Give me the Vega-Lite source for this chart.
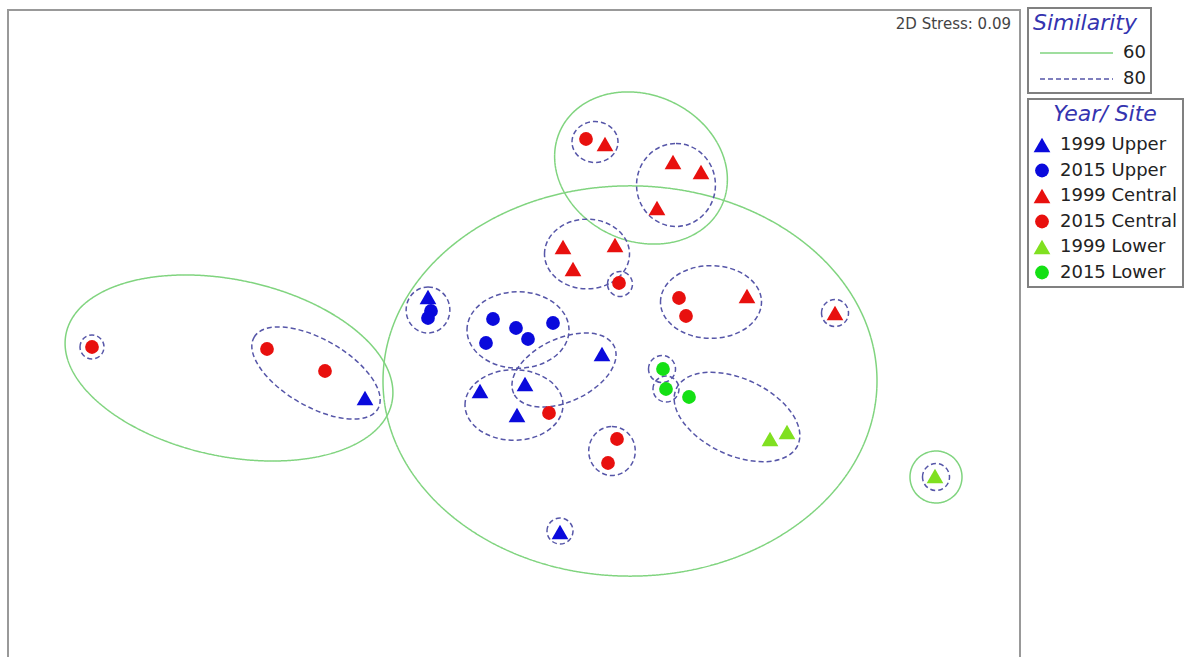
{
  "$schema": "https://vega.github.io/schema/vega-lite/v6.json",
  "width": 1012,
  "height": 660,
  "autosize": {"type": "none"},
  "padding": {"left": 8, "top": 10, "right": 167, "bottom": -13},
  "background": "white",
  "config": {
    "view": {"stroke": "#999999", "strokeWidth": 2},
    "legend": {"strokeWidth": 2}
  },
  "datasets": {
    "points": [
      {"group": "1999 Upper", "MDS1": 420, "MDS2": 373},
      {"group": "1999 Upper", "MDS1": 594, "MDS2": 316},
      {"group": "1999 Upper", "MDS1": 472, "MDS2": 279},
      {"group": "1999 Upper", "MDS1": 517, "MDS2": 286},
      {"group": "1999 Upper", "MDS1": 509, "MDS2": 255},
      {"group": "1999 Upper", "MDS1": 357, "MDS2": 272},
      {"group": "1999 Upper", "MDS1": 552, "MDS2": 138},
      {"group": "2015 Upper", "MDS1": 423, "MDS2": 359},
      {"group": "2015 Upper", "MDS1": 420, "MDS2": 352},
      {"group": "2015 Upper", "MDS1": 485, "MDS2": 351},
      {"group": "2015 Upper", "MDS1": 508, "MDS2": 342},
      {"group": "2015 Upper", "MDS1": 520, "MDS2": 331},
      {"group": "2015 Upper", "MDS1": 545, "MDS2": 347},
      {"group": "2015 Upper", "MDS1": 478, "MDS2": 327},
      {"group": "1999 Central", "MDS1": 597, "MDS2": 526},
      {"group": "1999 Central", "MDS1": 665, "MDS2": 508},
      {"group": "1999 Central", "MDS1": 693, "MDS2": 498},
      {"group": "1999 Central", "MDS1": 649, "MDS2": 462},
      {"group": "1999 Central", "MDS1": 555, "MDS2": 423},
      {"group": "1999 Central", "MDS1": 607, "MDS2": 425},
      {"group": "1999 Central", "MDS1": 565, "MDS2": 401},
      {"group": "1999 Central", "MDS1": 739, "MDS2": 374},
      {"group": "1999 Central", "MDS1": 827, "MDS2": 357},
      {"group": "2015 Central", "MDS1": 578, "MDS2": 531},
      {"group": "2015 Central", "MDS1": 611, "MDS2": 387},
      {"group": "2015 Central", "MDS1": 671, "MDS2": 372},
      {"group": "2015 Central", "MDS1": 678, "MDS2": 354},
      {"group": "2015 Central", "MDS1": 541, "MDS2": 257},
      {"group": "2015 Central", "MDS1": 609, "MDS2": 231},
      {"group": "2015 Central", "MDS1": 600, "MDS2": 207},
      {"group": "2015 Central", "MDS1": 84, "MDS2": 323},
      {"group": "2015 Central", "MDS1": 259, "MDS2": 321},
      {"group": "2015 Central", "MDS1": 317, "MDS2": 299},
      {"group": "1999 Lower", "MDS1": 762, "MDS2": 231},
      {"group": "1999 Lower", "MDS1": 779, "MDS2": 238},
      {"group": "1999 Lower", "MDS1": 927, "MDS2": 194},
      {"group": "2015 Lower", "MDS1": 655, "MDS2": 301},
      {"group": "2015 Lower", "MDS1": 658, "MDS2": 281},
      {"group": "2015 Lower", "MDS1": 681, "MDS2": 273}
    ],
    "ellipses": [
      {"similarity": "60", "MDS1": 221, "MDS2": 302, "major": 333, "ratio": "0.53", "angle": 12},
      {"similarity": "60", "MDS1": 622, "MDS2": 289, "major": 494, "ratio": "0.79", "angle": 0},
      {"similarity": "60", "MDS1": 633, "MDS2": 502, "major": 178, "ratio": "0.82", "angle": 25},
      {"similarity": "60", "MDS1": 928, "MDS2": 193, "major": 52, "ratio": "1.00", "angle": 0},
      {"similarity": "80", "MDS1": 84, "MDS2": 323, "major": 24, "ratio": "1.00", "angle": 0},
      {"similarity": "80", "MDS1": 308, "MDS2": 297, "major": 143, "ratio": "0.47", "angle": 30},
      {"similarity": "80", "MDS1": 420, "MDS2": 360, "major": 46, "ratio": "0.95", "angle": 90},
      {"similarity": "80", "MDS1": 510, "MDS2": 340, "major": 102, "ratio": "0.75", "angle": 0},
      {"similarity": "80", "MDS1": 556, "MDS2": 300, "major": 111, "ratio": "0.57", "angle": -25},
      {"similarity": "80", "MDS1": 506, "MDS2": 265, "major": 98, "ratio": "0.72", "angle": 0},
      {"similarity": "80", "MDS1": 604, "MDS2": 219, "major": 49, "ratio": "0.95", "angle": 90},
      {"similarity": "80", "MDS1": 579, "MDS2": 416, "major": 85, "ratio": "0.82", "angle": 0},
      {"similarity": "80", "MDS1": 612, "MDS2": 386, "major": 25, "ratio": "1.00", "angle": 0},
      {"similarity": "80", "MDS1": 654, "MDS2": 301, "major": 27, "ratio": "1.00", "angle": 0},
      {"similarity": "80", "MDS1": 658, "MDS2": 281, "major": 26, "ratio": "1.00", "angle": 0},
      {"similarity": "80", "MDS1": 729, "MDS2": 253, "major": 134, "ratio": "0.57", "angle": 25},
      {"similarity": "80", "MDS1": 928, "MDS2": 193, "major": 27, "ratio": "1.00", "angle": 0},
      {"similarity": "80", "MDS1": 587, "MDS2": 528, "major": 46, "ratio": "0.89", "angle": 0},
      {"similarity": "80", "MDS1": 668, "MDS2": 485, "major": 83, "ratio": "0.95", "angle": 90},
      {"similarity": "80", "MDS1": 703, "MDS2": 368, "major": 101, "ratio": "0.72", "angle": 0},
      {"similarity": "80", "MDS1": 827, "MDS2": 357, "major": 27, "ratio": "1.00", "angle": 0},
      {"similarity": "80", "MDS1": 552, "MDS2": 139, "major": 26, "ratio": "1.00", "angle": 0}
    ],
    "stress": [
      {"MDS1": 1003, "MDS2": 646, "label": "2D Stress: 0.09"}
    ]
  },
  "encoding": {
    "x": {"field": "MDS1", "type": "quantitative", "scale": {"domain": [0, 1012], "nice": false, "zero": false}, "axis": null},
    "y": {"field": "MDS2", "type": "quantitative", "scale": {"domain": [0, 660], "nice": false, "zero": false}, "axis": null}
  },
  "layer": [
    {
      "data": {"name": "ellipses"},
      "mark": {"type": "point", "filled": false, "opacity": 1, "strokeWidth": 1.5},
      "encoding": {
        "stroke": {
          "field": "similarity", "type": "nominal",
          "scale": {"domain": ["60", "80"], "range": ["#80d47f", "#5656a8"]},
          "legend": {
            "title": "Similarity",
            "orient": "none", "legendX": 1020, "legendY": -2,
            "symbolType": "M-0.5,0L17.75,0", "symbolSize": 64, "symbolStrokeWidth": 1.5,
            "labelOffset": 72, "padding": 5, "strokeColor": "#808080",
            "titleFont": "DejaVu Sans", "titleFontStyle": "italic", "titleFontWeight": "normal",
            "titleFontSize": 22, "titleColor": "#3434b0", "titlePadding": 9,
            "labelFont": "DejaVu Sans", "labelFontSize": 18, "labelColor": "#222222",
            "rowPadding": 8
          }
        },
        "strokeDash": {
          "field": "similarity", "type": "nominal",
          "scale": {"domain": ["60", "80"], "range": [[1, 0], [5, 3]]}
        },
        "shape": {
          "field": "ratio", "type": "nominal", "legend": null,
          "scale": {
            "domain": ["1.00", "0.95", "0.89", "0.82", "0.79", "0.75", "0.72", "0.57", "0.53", "0.47"],
            "range": [
              "M-1,0C-1,-0.5523,-0.5523,-1,0,-1C0.5523,-1,1,-0.5523,1,0C1,0.5523,0.5523,1,0,1C-0.5523,1,-1,0.5523,-1,0Z",
              "M-1,0C-1,-0.5247,-0.5523,-0.95,0,-0.95C0.5523,-0.95,1,-0.5247,1,0C1,0.5247,0.5523,0.95,0,0.95C-0.5523,0.95,-1,0.5247,-1,0Z",
              "M-1,0C-1,-0.4915,-0.5523,-0.89,0,-0.89C0.5523,-0.89,1,-0.4915,1,0C1,0.4915,0.5523,0.89,0,0.89C-0.5523,0.89,-1,0.4915,-1,0Z",
              "M-1,0C-1,-0.4529,-0.5523,-0.82,0,-0.82C0.5523,-0.82,1,-0.4529,1,0C1,0.4529,0.5523,0.82,0,0.82C-0.5523,0.82,-1,0.4529,-1,0Z",
              "M-1,0C-1,-0.4363,-0.5523,-0.79,0,-0.79C0.5523,-0.79,1,-0.4363,1,0C1,0.4363,0.5523,0.79,0,0.79C-0.5523,0.79,-1,0.4363,-1,0Z",
              "M-1,0C-1,-0.4142,-0.5523,-0.75,0,-0.75C0.5523,-0.75,1,-0.4142,1,0C1,0.4142,0.5523,0.75,0,0.75C-0.5523,0.75,-1,0.4142,-1,0Z",
              "M-1,0C-1,-0.3977,-0.5523,-0.72,0,-0.72C0.5523,-0.72,1,-0.3977,1,0C1,0.3977,0.5523,0.72,0,0.72C-0.5523,0.72,-1,0.3977,-1,0Z",
              "M-1,0C-1,-0.3148,-0.5523,-0.57,0,-0.57C0.5523,-0.57,1,-0.3148,1,0C1,0.3148,0.5523,0.57,0,0.57C-0.5523,0.57,-1,0.3148,-1,0Z",
              "M-1,0C-1,-0.2927,-0.5523,-0.53,0,-0.53C0.5523,-0.53,1,-0.2927,1,0C1,0.2927,0.5523,0.53,0,0.53C-0.5523,0.53,-1,0.2927,-1,0Z",
              "M-1,0C-1,-0.2596,-0.5523,-0.47,0,-0.47C0.5523,-0.47,1,-0.2596,1,0C1,0.2596,0.5523,0.47,0,0.47C-0.5523,0.47,-1,0.2596,-1,0Z"
            ]
          }
        },
        "size": {
          "field": "major", "type": "quantitative", "legend": null,
          "scale": {"type": "pow", "exponent": 2, "domain": [0, 500], "range": [0, 250000]}
        },
        "angle": {
          "field": "angle", "type": "quantitative", "legend": null,
          "scale": {"domain": [-180, 180], "range": [-180, 180]}
        }
      }
    },
    {
      "data": {"name": "points"},
      "mark": {"type": "point", "filled": true, "opacity": 1, "strokeWidth": 0},
      "encoding": {
        "color": {
          "field": "group", "type": "nominal",
          "scale": {
            "domain": ["1999 Upper", "2015 Upper", "1999 Central", "2015 Central", "1999 Lower", "2015 Lower"],
            "range": ["#0a0adc", "#0a0adc", "#e8100e", "#e8100e", "#80e020", "#14e014"]
          },
          "legend": {
            "title": "Year/ Site",
            "orient": "none", "legendX": 1020, "legendY": 89,
            "padding": 5, "strokeColor": "#808080",
            "titleFont": "DejaVu Sans", "titleFontStyle": "italic", "titleFontWeight": "normal",
            "titleFontSize": 22, "titleColor": "#3434b0", "titlePadding": 10, "titleAnchor": "middle",
            "labelFont": "DejaVu Sans", "labelFontSize": 18, "labelColor": "#222222",
            "labelOffset": 9, "rowPadding": 7.5, "symbolStrokeWidth": 0, "symbolOpacity": 1
          }
        },
        "shape": {
          "field": "group", "type": "nominal",
          "scale": {
            "domain": ["1999 Upper", "2015 Upper", "1999 Central", "2015 Central", "1999 Lower", "2015 Lower"],
            "range": ["triangle-up", "circle", "triangle-up", "circle", "triangle-up", "circle"]
          },
          "legend": {
            "title": "Year/ Site",
            "orient": "none", "legendX": 1020, "legendY": 89,
            "padding": 5, "strokeColor": "#808080",
            "titleFont": "DejaVu Sans", "titleFontStyle": "italic", "titleFontWeight": "normal",
            "titleFontSize": 22, "titleColor": "#3434b0", "titlePadding": 10, "titleAnchor": "middle",
            "labelFont": "DejaVu Sans", "labelFontSize": 18, "labelColor": "#222222",
            "labelOffset": 9, "rowPadding": 7.5, "symbolStrokeWidth": 0, "symbolOpacity": 1
          }
        },
        "size": {
          "field": "group", "type": "nominal",
          "scale": {
            "type": "ordinal",
            "domain": ["1999 Upper", "2015 Upper", "1999 Central", "2015 Central", "1999 Lower", "2015 Lower"],
            "range": [280, 190, 280, 190, 280, 190]
          },
          "legend": {
            "title": "Year/ Site",
            "orient": "none", "legendX": 1020, "legendY": 89,
            "padding": 5, "strokeColor": "#808080",
            "titleFont": "DejaVu Sans", "titleFontStyle": "italic", "titleFontWeight": "normal",
            "titleFontSize": 22, "titleColor": "#3434b0", "titlePadding": 10, "titleAnchor": "middle",
            "labelFont": "DejaVu Sans", "labelFontSize": 18, "labelColor": "#222222",
            "labelOffset": 9, "rowPadding": 7.5, "symbolStrokeWidth": 0, "symbolOpacity": 1
          }
        }
      }
    },
    {
      "data": {"name": "stress"},
      "mark": {"type": "text", "align": "right", "baseline": "middle", "font": "DejaVu Sans", "fontSize": 15, "fill": "#444444"},
      "encoding": {
        "text": {"field": "label", "type": "nominal"}
      }
    }
  ],
  "resolve": {"scale": {"shape": "independent", "size": "independent", "color": "independent"}}
}
